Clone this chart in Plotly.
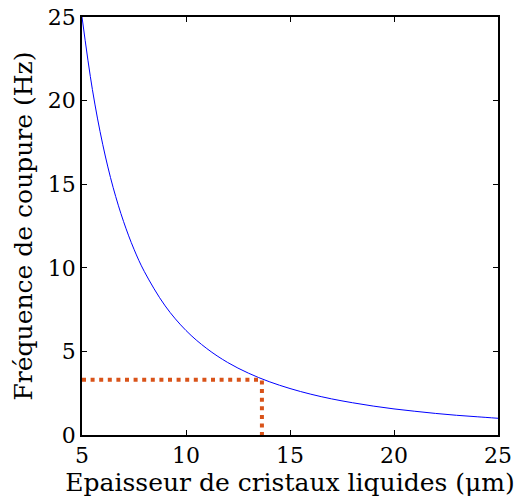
import plotly.graph_objects as go

thickness_um = [5, 5.5, 6, 6.5, 7, 7.5, 8, 9, 10, 11, 12, 13, 14, 15, 16, 17, 18, 19, 20, 21, 22, 23, 24, 25]
cutoff_hz = [25.0, 20.66, 17.36, 14.79, 12.76, 11.11, 9.77, 7.72, 6.25, 5.17, 4.34, 3.70, 3.19, 2.78, 2.44, 2.16, 1.93, 1.73, 1.56, 1.42, 1.29, 1.18, 1.09, 1.0]

marker_x = [5, 13.65, 13.65]
marker_y = [3.3, 3.3, 0]

x_ticks = [5, 10, 15, 20, 25]
y_ticks = [0, 5, 10, 15, 20, 25]

font_family = "DejaVu Serif, Liberation Serif, serif"

fig = go.Figure()
fig.add_trace(go.Scatter(x=thickness_um, y=cutoff_hz, mode="lines",
                         line=dict(color="#0000FF", width=1, shape="spline", smoothing=1.0),
                         showlegend=False, hoverinfo="skip"))
fig.add_trace(go.Scatter(x=marker_x, y=marker_y, mode="lines",
                         line=dict(color="#D95319", width=4, dash="4px,4.6px"),
                         showlegend=False, hoverinfo="skip"))

axis_common = dict(showline=True, linecolor="black", linewidth=1.5, mirror="ticks",
                   ticks="inside", ticklen=5, tickcolor="black", showgrid=False,
                   zeroline=False, ticklabeloverflow="allow", automargin=False,
                   tickfont=dict(family=font_family, size=22, color="black"))

fig.update_layout(
    width=523, height=501,
    margin=dict(l=82, r=25, t=17, b=66),
    plot_bgcolor="white", paper_bgcolor="white",
    xaxis=dict(range=[5, 25], tickvals=x_ticks, ticktext=[str(v) for v in x_ticks],
               title=dict(text="Epaisseur de cristaux liquides (μm)",
                          font=dict(family=font_family, size=25, color="black"), standoff=1),
               **axis_common),
    yaxis=dict(range=[0, 25], tickvals=y_ticks, ticktext=[str(v) for v in y_ticks],
               title=dict(text="Fréquence de coupure (Hz)",
                          font=dict(family=font_family, size=25, color="black"), standoff=8),
               **axis_common),
)

fig.write_html("out.html", config={"displayModeBar": False},
               post_script="document.body.style.margin='0';document.body.style.overflow='hidden';")
